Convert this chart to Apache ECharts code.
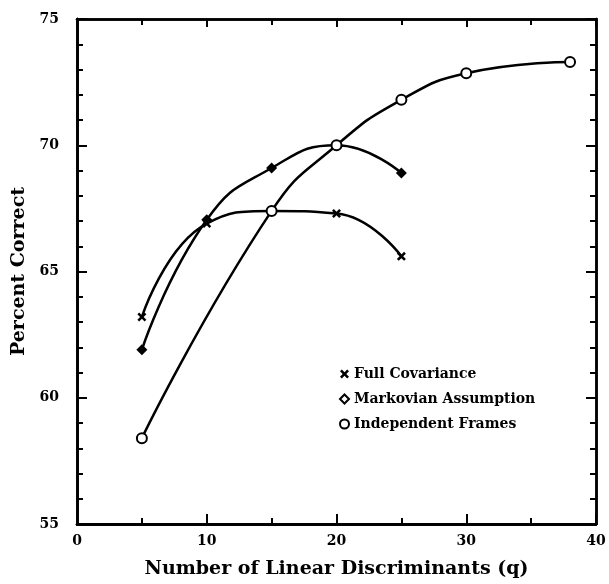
<!DOCTYPE html>
<html>
<head>
<meta charset="utf-8">
<script src="https://cdn.jsdelivr.net/npm/echarts@6/dist/echarts.min.js"></script>
<style>
  html, body { margin: 0; padding: 0; background: #fff; }
  #chart { width: 609px; height: 584px; }
</style>
</head>
<body>
<div id="chart"></div>
<script>
  const seriesNames = ['Full Covariance', 'Markovian Assumption', 'Independent Frames']

  const fullCovX = [5, 10, 15, 20, 25]
  const fullCovY = [63.2, 66.9, 67.4, 67.3, 65.6]

  const markovX = [5, 10, 15, 20, 25]
  const markovY = [61.9, 67.05, 69.1, 70.0, 68.9]

  const indepX = [5, 15, 20, 25, 30, 38]
  const indepY = [58.4, 67.4, 70.0, 71.8, 72.85, 73.3]

  const xTicks = [0, 10, 20, 30, 40]
  const yTicks = [55, 60, 65, 70, 75]

  const font = 'DejaVu Serif'
  const crossPath = 'path://M0,2 L2,0 L5,3 L8,0 L10,2 L7,5 L10,8 L8,10 L5,7 L2,10 L0,8 L3,5 Z'

  function pairs(xs, ys) {
    return xs.map((x, i) => [x, ys[i]])
  }

  const chart = echarts.init(document.getElementById('chart'))

  // onZero off, otherwise the extra right-hand y axes get pulled onto x = 0
  const axisLine = { show: true, onZero: false, lineStyle: { color: '#000', width: 2.5 } }
  const xMin = xTicks[0], xMax = xTicks[xTicks.length - 1]
  const yMin = yTicks[0], yMax = yTicks[yTicks.length - 1]

  // plain axes that only draw inward ticks (major and minor as separate axes)
  function tickAxis(min, max, interval, position, len) {
    return {
      type: 'value',
      min: min,
      max: max,
      interval: interval,
      position: position,
      axisLine: axisLine,
      axisTick: { show: true, inside: true, length: len, lineStyle: { color: '#000', width: 2 } },
      axisLabel: { show: false },
      splitLine: { show: false },
    }
  }

  chart.setOption({
    backgroundColor: '#fff',
    animation: false,
    grid: { left: 77, right: 13, top: 19, bottom: 58 },
    legend: {
      orient: 'vertical',
      left: 334,
      top: 362,
      itemGap: 11,
      itemWidth: 9,
      itemHeight: 9,
      textStyle: { fontFamily: font, fontWeight: 'bold', fontSize: 14, color: '#000' },
      data: [
        { name: seriesNames[0], icon: crossPath, itemStyle: { color: '#000', borderWidth: 0 } },
        { name: seriesNames[1], icon: 'diamond', itemStyle: { color: '#fff', borderColor: '#000', borderWidth: 2 } },
        { name: seriesNames[2], icon: 'circle', itemStyle: { color: '#fff', borderColor: '#000', borderWidth: 2 } },
      ],
    },
    xAxis: [
      {
        type: 'value',
        min: xMin,
        max: xMax,
        interval: 10,
        position: 'bottom',
        name: 'Number of Linear Discriminants (q)',
        nameLocation: 'middle',
        nameGap: 36,
        nameTextStyle: { fontFamily: font, fontWeight: 'bold', fontSize: 19, color: '#000' },
        axisLine: axisLine,
        axisTick: { show: false },
        axisLabel: { fontFamily: font, fontWeight: 'bold', fontSize: 14, color: '#000', margin: 10 },
        splitLine: { show: false },
      },
      tickAxis(xMin, xMax, 10, 'bottom', 10),
      tickAxis(xMin, xMax, 5, 'bottom', 6),
      tickAxis(xMin, xMax, 10, 'top', 8),
      tickAxis(xMin, xMax, 5, 'top', 6),
    ],
    yAxis: [
      {
        type: 'value',
        min: yMin,
        max: yMax,
        interval: 5,
        position: 'left',
        name: 'Percent Correct',
        nameLocation: 'middle',
        nameGap: 42,
        nameTextStyle: { fontFamily: font, fontWeight: 'bold', fontSize: 19, color: '#000' },
        axisLine: axisLine,
        axisTick: { show: false },
        axisLabel: { fontFamily: font, fontWeight: 'bold', fontSize: 14, color: '#000', margin: 18 },
        splitLine: { show: false },
      },
      tickAxis(yMin, yMax, 5, 'left', 10),
      tickAxis(yMin, yMax, 1, 'left', 6),
      tickAxis(yMin, yMax, 5, 'right', 10),
      tickAxis(yMin, yMax, 1, 'right', 6),
    ],
    series: [
      {
        name: seriesNames[0],
        type: 'line',
        data: pairs(fullCovX, fullCovY),
        smooth: 0.5,
        symbol: crossPath,
        symbolSize: 9,
        lineStyle: { color: '#000', width: 2.5 },
        itemStyle: { color: '#000' },
      },
      {
        name: seriesNames[1],
        type: 'line',
        data: pairs(markovX, markovY),
        smooth: 0.5,
        symbol: 'diamond',
        symbolSize: 11,
        lineStyle: { color: '#000', width: 2.5 },
        itemStyle: { color: '#000' },
      },
      {
        name: seriesNames[2],
        type: 'line',
        data: pairs(indepX, indepY),
        smooth: 0.5,
        symbol: 'emptyCircle',
        symbolSize: 10,
        lineStyle: { color: '#000', width: 2.5 },
        itemStyle: { color: '#000', borderWidth: 2.5 },
      },
    ],
  })
</script>
</body>
</html>
